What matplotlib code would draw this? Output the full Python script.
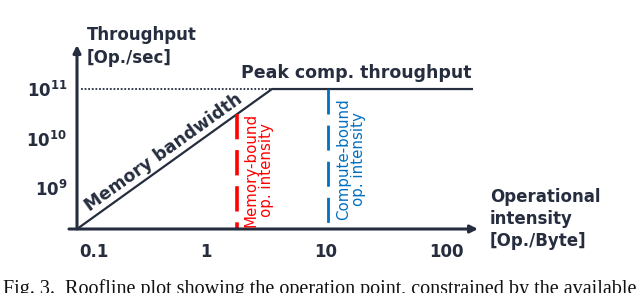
import numpy as np
import matplotlib.pyplot as plt
from matplotlib.transforms import ScaledTranslation

plt.rcParams['font.family'] = ['DejaVu Sans']
plt.rcParams['mathtext.fontset'] = 'dejavusans'

navy = '#252d3f'
red = '#ff0000'
blue = '#0070c0'

# axis ticks
x_ticks = [0.1, 1, 10, 100]
x_tick_labels = ['0.1', '1', '10', '100']
y_ticks = [1e9, 1e10, 1e11]
y_tick_labels = [r'$\mathbf{10^{9}}$', r'$\mathbf{10^{10}}$', r'$\mathbf{10^{11}}$']

# roofline (log-log)
x_lim = (10 ** -1.075, 10 ** 2.267)
y_lim = (10 ** 8.17, 10 ** 11.89)
roof_x = [10 ** -1.075, 3.55, 168]
roof_y = [10 ** 8.17, 1e11, 1e11]
peak = 1e11
mem_bound_x = 1.81
comp_bound_x = 10.4

fig = plt.figure(figsize=(6.4, 2.93), dpi=100)
ax = fig.add_axes([77 / 640, 64 / 293, 401 / 640, 184 / 293])
ax.set_xscale('log')
ax.set_yscale('log')
ax.set_xlim(*x_lim)
ax.set_ylim(*y_lim)
for s in ax.spines.values():
    s.set_visible(False)

ax.set_xticks(x_ticks)
ax.set_xticklabels(x_tick_labels)
ax.set_yticks(y_ticks)
ax.set_yticklabels(y_tick_labels)
ax.minorticks_off()
ax.tick_params(axis='x', length=0, pad=10, labelsize=12, labelcolor=navy)
ax.tick_params(axis='y', length=0, pad=7, labelsize=12, labelcolor=navy)
for lab in ax.get_xticklabels():
    lab.set_fontweight('bold')
# the 0.1 label sits a bit right of its decade in the original
ax.get_xticklabels()[0].set_transform(
    ax.get_xticklabels()[0].get_transform() + ScaledTranslation(8 / 100, 0, fig.dpi_scale_trans))

# axis arrows
arrow = dict(arrowstyle='-|>', lw=2.2, color=navy, mutation_scale=11, shrinkA=0, shrinkB=0)
ax.annotate('', xy=(1, 0), xytext=(-0.02, 0), xycoords='axes fraction', arrowprops=arrow)
ax.annotate('', xy=(0, 1), xytext=(0, 0), xycoords='axes fraction', arrowprops=arrow)

# roof
ax.plot(roof_x, roof_y, color=navy, lw=1.6, solid_capstyle='butt')
ax.plot([x_lim[0] * 1.08, roof_x[1]], [peak, peak], color=navy, lw=1.3, ls=(0, (1, 1)))


def roof_at(x):
    return 10 ** np.interp(np.log10(x), np.log10(roof_x), np.log10(roof_y))


# drawn top-down so the dash pattern starts at the roof
ax.plot([mem_bound_x, mem_bound_x], [roof_at(mem_bound_x), y_lim[0]],
        color=red, lw=2.6, ls=(0, (7, 3)))
ax.plot([comp_bound_x, comp_bound_x], [roof_at(comp_bound_x), y_lim[0]],
        color=blue, lw=2.0, ls=(0, (9, 4)))

# labels on the roof
ax.annotate('Peak comp. throughput', xy=(17.8, peak), xytext=(0, 8), textcoords='offset points',
            ha='center', va='baseline', fontsize=12.5, fontweight='bold', color=navy)

p0 = ax.transData.transform((roof_x[0], roof_y[0]))
p1 = ax.transData.transform((roof_x[1], roof_y[1]))
angle = np.degrees(np.arctan2(p1[1] - p0[1], p1[0] - p0[0]))
mb_x = 0.5
ax.annotate('Memory bandwidth', xy=(mb_x, roof_at(mb_x)), xytext=(-1, 1.5), textcoords='offset points',
            ha='center', va='bottom', rotation=angle, rotation_mode='anchor',
            fontsize=12.5, fontweight='bold', color=navy)

ax.annotate('Memory-bound\nop. intensity', xy=(mem_bound_x, y_lim[0]), xytext=(5, 1.5),
            textcoords='offset points', rotation=90, ha='left', va='bottom',
            multialignment='center', fontsize=10.8, color=red, linespacing=1.05)
ax.annotate('Compute-bound\nop. intensity', xy=(comp_bound_x, y_lim[0]), xytext=(5.5, 6.5),
            textcoords='offset points', rotation=90, ha='left', va='bottom',
            multialignment='center', fontsize=10.8, color=blue, linespacing=1.05)

# axis titles
fig.text(87 / 640, 1 - 26 / 293, 'Throughput\n[Op./sec]', ha='left', va='top',
         fontsize=12, fontweight='bold', color=navy, linespacing=1.35)
fig.text(490 / 640, 1 - 188 / 293, 'Operational\nintensity\n[Op./Byte]', ha='left', va='top',
         fontsize=12, fontweight='bold', color=navy, linespacing=1.3)

# caption fragment from the paper (cut at the bottom edge, as in the source)
fig.text(0.004, -1 / 293, 'Fig. 3.  Roofline plot showing the operation point, constrained by the available',
         ha='left', va='baseline', family='Liberation Serif', fontsize=14.5, color='#111111')

fig.savefig('out.png', dpi=100)
